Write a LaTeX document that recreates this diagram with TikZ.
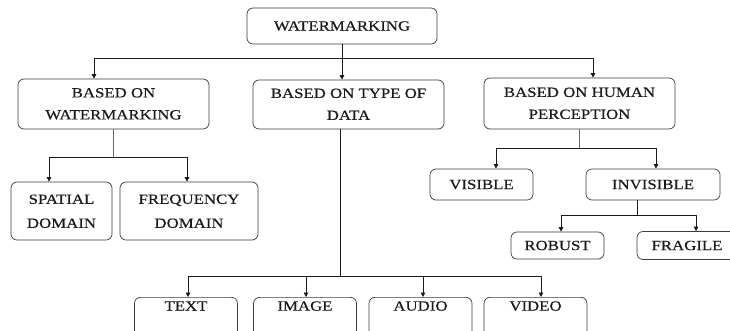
\documentclass[tikz,border=0pt]{standalone}
\usepackage{fontspec}
\setmainfont{Liberation Serif}[FakeStretch=1.2,FakeBold=0.4]
\usepackage{tikz}
\usetikzlibrary{arrows.meta,positioning,calc}
\definecolor{ink}{HTML}{1A1A1A}
\definecolor{frame}{HTML}{3C3C3C}
\definecolor{stem}{HTML}{6A6A6A}
\newcommand{\boxlines}[2]{\begin{tabular}{@{}c@{}}#1\\#2\end{tabular}}
\tikzset{
    every picture/.style={line cap=round,line join=round},
    catnode/.style={draw=frame,fill=white,line width=0.7pt,rounded corners=6pt,
      inner sep=0pt,text=ink,align=center,font=\fontsize{14}{22}\selectfont},
    leafnode/.style={catnode,minimum width=103pt,anchor=north,
      inner ysep=4pt,text depth=30pt},
    treeline/.style={draw=ink,line width=0.9pt},
    armline/.style={draw=ink,line width=0.7pt},
    thinline/.style={draw=stem,line width=0.55pt},
    treearrow/.style={-{Triangle[length=4.5pt,width=4.5pt]}}
}

\begin{document}
\begin{tikzpicture}[x=1pt,y=-1pt]
  \useasboundingbox (0,0) rectangle (730,331);
  % root and first level
  \node[catnode,minimum width=190pt,minimum height=36pt] (wm) at (342,26) {WATERMARKING};
  \node[catnode,minimum width=191pt,minimum height=50pt] (bow) at (113.5,104) {\boxlines{BASED ON}{WATERMARKING}};
  \node[catnode,minimum width=191pt,minimum height=49pt] (btd) at (348.5,104.5) {\boxlines{BASED ON TYPE OF}{DATA}};
  \node[catnode,minimum width=191pt,minimum height=51pt] (bhp) at (579.5,103.5) {\boxlines{BASED ON HUMAN}{PERCEPTION}};
  % second level
  \node[catnode,font=\fontsize{14}{24}\selectfont,minimum width=101pt,minimum height=58pt] (sp) at (61.5,211) {\boxlines{SPATIAL}{DOMAIN}};
  \node[catnode,font=\fontsize{14}{24}\selectfont,minimum width=138pt,minimum height=58pt] (fr) at (189,211) {\boxlines{FREQUENCY}{DOMAIN}};
  \node[catnode,minimum width=103pt,minimum height=31pt] (vis) at (481.5,184.5) {VISIBLE};
  \node[catnode,minimum width=134pt,minimum height=31pt] (inv) at (653,184.5) {INVISIBLE};
  \node[catnode,minimum width=93pt,minimum height=27pt] (rob) at (557.5,245.5) {ROBUST};
  \node[catnode,minimum width=100pt,minimum height=28pt] (fra) at (687,245.5) {FRAGILE};
  \foreach \n/\x/\t in {txt/186/TEXT,img/305/IMAGE,aud/420.5/AUDIO,vid/535.5/VIDEO} {
    \node[leafnode] (\n) at (\x,297) {\t};
  }

  % connectors
  \draw[treeline] (wm.south) -- ++(0,14) coordinate (t1);
  \draw[treeline,treearrow] (t1) -- (t1 |- btd.north);
  \draw[treeline,treearrow] (t1) -| ([xshift=-19.5pt]bow.north);
  \draw[treeline,treearrow] (t1) -| ([xshift=13.5pt]bhp.north);

  \draw[thinline] (bow.south) -- ++(0,28) coordinate (t2);
  \draw[armline,treearrow] (t2) -| ([xshift=-12.5pt]sp.north);
  \draw[armline,treearrow] (t2) -| ([xshift=-2pt]fr.north);

  \draw[treeline] ([xshift=-8.5pt]btd.south) -- ++(0,147) coordinate (t3);
  \foreach \n/\s in {txt/2,img/1,aud/2.5,vid/5.5} {
    \draw[armline,treearrow] (t3) -| ([xshift=\s pt]\n.north);
  }

  \draw[thinline] (bhp.south) -- ++(0,19) coordinate (t4);
  \draw[armline,treearrow] (t4) -| ([xshift=14.5pt]vis.north);
  \draw[armline,treearrow] (t4) -| ([xshift=3pt]inv.north);

  \draw[treeline] ([xshift=-16pt]inv.south) -- ++(0,15) coordinate (t5);
  \draw[armline,treearrow] (t5) -| ([xshift=3.5pt]rob.north);
  \draw[armline,treearrow] (t5) -| ([xshift=9pt]fra.north);
\end{tikzpicture}
\end{document}
